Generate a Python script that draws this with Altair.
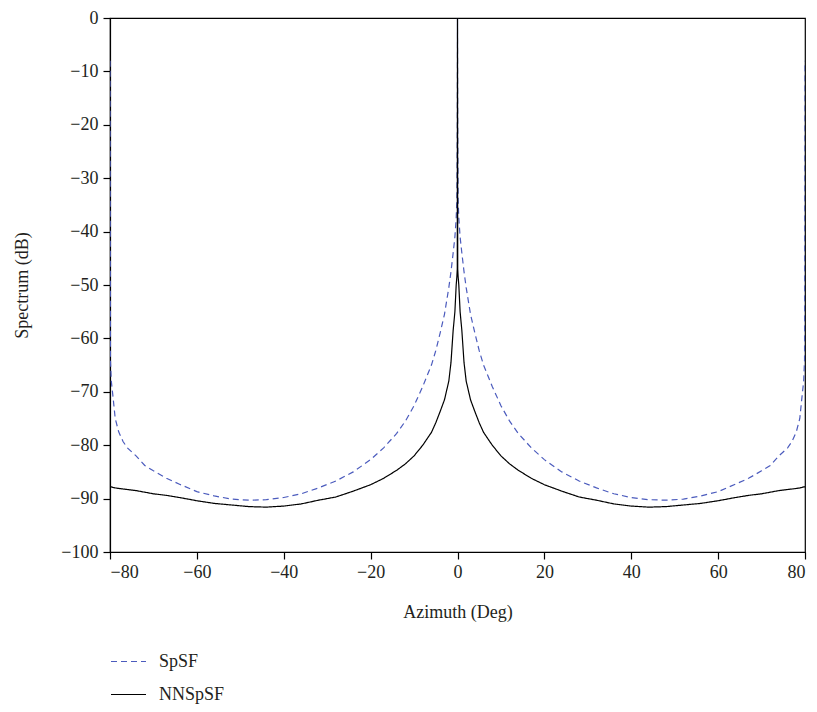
import altair as alt
import pandas as pd

azimuth = [-80, -79.9, -79.7, -79.3, -78.8, -78, -77, -76, -74, -72, -70, -67, -64, -60,
           -56, -52, -48, -44, -40, -36, -32, -28, -24, -20, -17, -14, -12, -10, -8, -6,
           -5, -4, -3, -2, -1.5, -1, -0.6, -0.3, -0.15, -0.05, 0,
           0.05, 0.15, 0.3, 0.6, 1, 1.5, 2, 3, 4, 5, 6, 8, 10, 12, 14, 17, 20, 24, 28,
           32, 36, 40, 44, 48, 52, 56, 60, 64, 67, 70, 72, 74, 76, 77, 78, 78.8, 79.3,
           79.7, 79.9, 80]

spsf = [-8, -64, -68, -71, -75, -77.5, -79.3, -80.5, -82, -83.8, -84.8, -86.2, -87.3, -88.7,
        -89.5, -90.1, -90.3, -90.2, -89.8, -89.1, -88.0, -86.7, -85.0, -82.7, -80.5, -77.8, -75.5, -72.6, -69, -65,
        -62.3, -59, -55.5, -50.5, -47.5, -44, -41, -37.5, -34, -20, 0,
        -20, -34, -37.5, -41, -44, -47.5, -50.5, -55.5, -59, -62.3, -65, -69, -72.6, -75.5, -77.8, -80.5, -82.7, -85.0, -86.7,
        -88.0, -89.1, -89.8, -90.2, -90.3, -90.1, -89.5, -88.7, -87.3, -86.2, -84.8, -83.8, -82, -80.5, -79.3, -77.5, -75, -71,
        -68, -64, -8]

nnspsf = [-87.8, -87.8, -87.8, -87.9, -88.0, -88.1, -88.2, -88.3, -88.5, -88.8, -89.1, -89.4, -89.8, -90.4,
          -90.9, -91.2, -91.5, -91.6, -91.4, -91.0, -90.3, -89.7, -88.6, -87.4, -86.2, -84.7, -83.5, -82.0, -80.0, -77.6,
          -75.8, -73.7, -71.5, -68, -64.5, -58.5, -55, -50, -48.5, -47, 0,
          -47, -48.5, -50, -55, -58.5, -64.5, -68, -71.5, -73.7, -75.8, -77.6, -80.0, -82.0, -83.5, -84.7, -86.2, -87.4, -88.6, -89.7,
          -90.3, -91.0, -91.4, -91.6, -91.5, -91.2, -90.9, -90.4, -89.8, -89.4, -89.1, -88.8, -88.5, -88.3, -88.2, -88.1, -88.0, -87.9,
          -87.8, -87.8, -87.8]

series_names = ["SpSF", "NNSpSF"]
x_ticks = [-80, -60, -40, -20, 0, 20, 40, 60, 80]
y_ticks = [-100, -90, -80, -70, -60, -50, -40, -30, -20, -10, 0]

rows = []
for i, a in enumerate(azimuth):
    rows.append({"Azimuth": a, "Spectrum": spsf[i], "Method": "SpSF", "order": i})
    rows.append({"Azimuth": a, "Spectrum": nnspsf[i], "Method": "NNSpSF", "order": i})
df = pd.DataFrame(rows)

FONT = "Liberation Serif"
FS = 18

legend_cfg = dict(title=None, orient="none", legendX=0, legendY=625,
                  direction="vertical", symbolType="stroke",
                  symbolSize=1225, symbolStrokeWidth=1.2,
                  labelFontSize=FS, labelFont=FONT, labelColor="#231f20",
                  labelOffset=12, rowPadding=5, padding=0)

chart = alt.Chart(df).mark_line(strokeWidth=1.2, clip=True).encode(
    x=alt.X("Azimuth:Q",
            scale=alt.Scale(domain=[-80, 80], nice=False, zero=False),
            axis=alt.Axis(values=x_ticks, title="Azimuth (Deg)", titleY=60,
                          titleBaseline="middle")),
    y=alt.Y("Spectrum:Q",
            scale=alt.Scale(domain=[-100, 0], nice=False, zero=False),
            axis=alt.Axis(values=y_ticks, title="Spectrum (dB)", titleX=-88, titleY=267,
                          titleAlign="center", titleAngle=-90, titleBaseline="middle")),
    color=alt.Color("Method:N",
                    scale=alt.Scale(domain=series_names, range=["#4b5bbd", "#000000"]),
                    legend=alt.Legend(**legend_cfg)),
    strokeDash=alt.StrokeDash("Method:N",
                              scale=alt.Scale(domain=series_names, range=[[6, 4], [1, 0]]),
                              legend=alt.Legend(**legend_cfg)),
    order="order:Q",
).properties(
    width=695, height=534,
    autosize=alt.AutoSizeParams(type="none"),
    padding={"left": 102, "top": 10, "right": 4, "bottom": 152},
).configure_view(
    stroke="#000000", strokeWidth=1.2
).configure_axis(
    grid=False, domainColor="#000000", domainWidth=1.2, tickColor="#000000", tickWidth=1.2,
    tickSize=7, labelFont=FONT, labelFontSize=FS, labelColor="#231f20", labelPadding=4,
    titleFont=FONT, titleFontSize=FS, titleFontWeight="normal", titleColor="#231f20",
).configure_axisY(
    labelPadding=5
)

chart.save("out.html", embed_options={"renderer": "svg", "actions": False})
